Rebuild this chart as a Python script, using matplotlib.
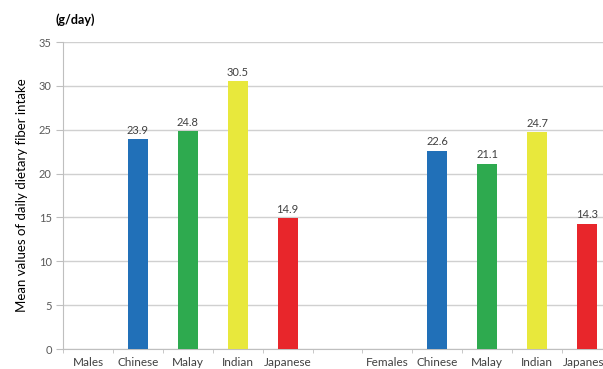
import matplotlib
matplotlib.use("Agg")
import matplotlib.pyplot as plt
import numpy as np

plt.rcParams["font.family"] = ["Lato", "DejaVu Sans"]

categories = ["Males", "Chinese", "Malay", "Indian", "Japanese", "",
              "Females", "Chinese", "Malay", "Indian", "Japanese"]
# None where no bar is drawn
values = [None, 23.9, 24.8, 30.5, 14.9, None,
          None, 22.6, 21.1, 24.7, 14.3]
bar_colors = [None, "#2170b8", "#2eaa4f", "#e8e83c", "#e8262b", None,
              None, "#2170b8", "#2eaa4f", "#e8e83c", "#e8262b"]

fig = plt.figure(figsize=(6.03, 3.69), dpi=100)
ax = fig.add_axes([63 / 603, 20 / 369, (612 - 63) / 603, (349 - 42) / 369])

x = np.arange(len(categories))
for xi, v, c in zip(x, values, bar_colors):
    if v is None:
        continue
    ax.bar(xi, v, width=0.4, color=c, zorder=3)
    ax.text(xi, v + 0.4, f"{v}", ha="center", va="bottom", fontsize=8, color="#404040")

ax.set_xlim(-0.5, len(categories) - 0.5)
ax.set_ylim(0, 35)
ax.set_yticks(range(0, 36, 5))
ax.set_xticks(x)
ax.set_xticklabels(categories)
ax.set_xticks(np.arange(-0.5, len(categories)), minor=True)
ax.tick_params(axis="x", which="major", length=0, labelsize=8.5, labelcolor="#404040", pad=6)
ax.tick_params(axis="x", which="minor", length=3, color="#bfbfbf")
ax.tick_params(axis="y", length=5, color="#bfbfbf", labelsize=8, labelcolor="#595959", pad=3)

ax.grid(axis="y", color="#d0d0d0", linewidth=1, zorder=0)
for s in ["top", "right"]:
    ax.spines[s].set_visible(False)
ax.spines["left"].set_color("#bfbfbf")
ax.spines["bottom"].set_color("#bfbfbf")

ax.set_ylabel("Mean values of daily dietary fiber intake", fontsize=9.5, color="#000000", labelpad=8)
fig.text(55 / 603, 1 - 20 / 369, "(g/day)", fontsize=9, fontweight="bold", va="center", ha="left")

fig.savefig("out.png", dpi=100)
